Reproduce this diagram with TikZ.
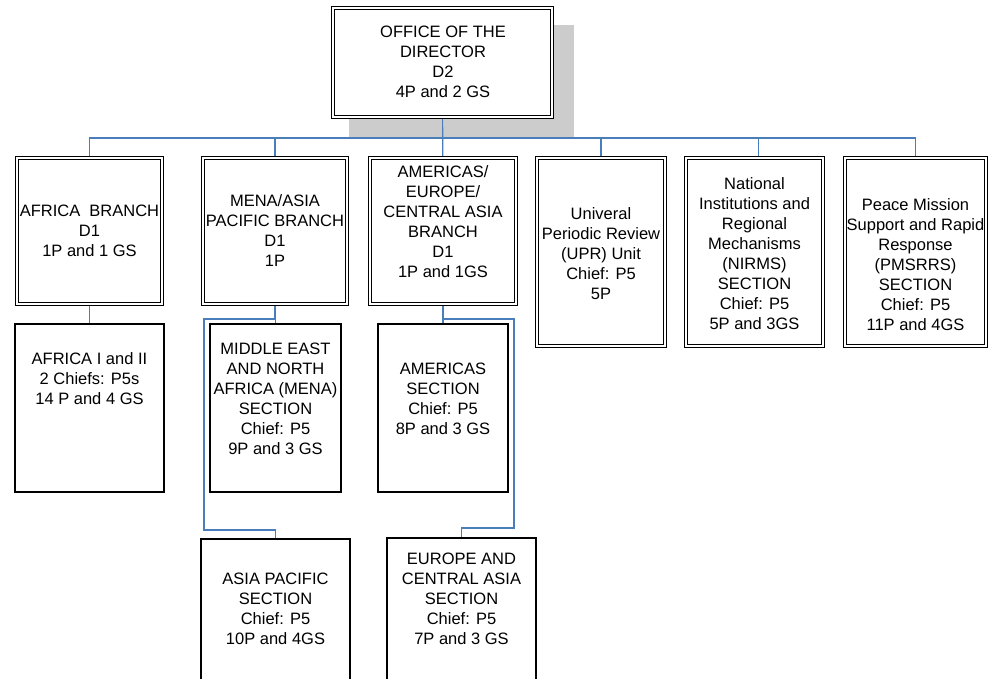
\documentclass[tikz,border=0pt]{standalone}
\usepackage{fontspec}
\setmainfont{Liberation Sans}
\usetikzlibrary{positioning}

\begin{document}
\begin{tikzpicture}[x=1pt, y=-1pt,
	dbox/.style={draw, double, line width=1.2pt, double distance=2pt, fill=white, inner sep=0pt, outer sep=2.2pt},
	sbox/.style={draw, line width=1.2pt, fill=white, inner sep=0pt},
	shadowbox/.style={fill=SHADE, inner sep=0pt},
	txt/.style={align=center, inner sep=0pt, font=\fontsize{16.5}{20}\selectfont},
	link/.style={draw=LINK, line width=1.1pt}]
			\definecolor{LINK}{RGB}{74, 126, 187}
			\definecolor{SHADE}{RGB}{204, 204, 204}
			\useasboundingbox (0, 0) rectangle (992, 679);
			% office of the director
			\node[shadowbox, minimum width=225pt, minimum height=113pt] (dir-shadow) at (461.5, 81.5) {};
			\node[dbox, minimum width=218.6pt, minimum height=108.6pt] (dir) at (442.5, 62.5) {};
			\node[txt] (dir-t) at (443.0, 62.0) {OFFICE OF THE\\DIRECTOR\\D2\\4P and 2 GS};
			% branches
			\node[dbox, minimum width=144.6pt, minimum height=145.6pt] (africa) at ( 89.5, 231.0) {};
			\node[dbox, minimum width=143.6pt, minimum height=145.6pt] (mena)   at (275.0, 231.0) {};
			\node[dbox, minimum width=145.6pt, minimum height=145.6pt] (amer)   at (443.0, 231.0) {};
			\node[dbox, minimum width=127.6pt, minimum height=187.6pt] (upr)    at (601.0, 252.0) {};
			\node[dbox, minimum width=136.6pt, minimum height=187.6pt] (nirms)  at (754.5, 252.0) {};
			\node[dbox, minimum width=140.6pt, minimum height=187.6pt] (pms)    at (915.5, 252.0) {};
			\node[txt] (africa-t) at ( 89.5, 231.0) {AFRICA\ \ BRANCH\\D1\\1P and 1 GS};
			\node[txt] (mena-t)   at (275.0, 231.0) {MENA/ASIA\\PACIFIC BRANCH\\D1\\1P};
			\node[txt] (amer-t)   at (443.0, 222.0) {AMERICAS/\\EUROPE/\\CENTRAL ASIA\\BRANCH\\D1\\1P and 1GS};
			\node[txt] (upr-t)    at (601.0, 254.0) {Univeral\\Periodic Review\\(UPR) Unit\\Chief: P5\\5P};
			\node[txt] (nirms-t)  at (754.5, 254.0) {National\\Institutions and\\Regional\\Mechanisms\\(NIRMS)\\SECTION\\Chief: P5\\5P and 3GS};
			\node[txt] (pms-t)    at (915.5, 265.0) {Peace Mission\\Support and Rapid\\Response\\(PMSRRS)\\SECTION\\Chief: P5\\11P and 4GS};
			% sections
			\node[sbox, minimum width=149pt, minimum height=168pt] (africa-sec) at ( 89.5, 408.0) {};
			\node[sbox, minimum width=131pt, minimum height=168pt] (mena-sec)   at (275.5, 408.0) {};
			\node[sbox, minimum width=130pt, minimum height=168pt] (amer-sec)   at (443.0, 408.0) {};
			\node[sbox, minimum width=149pt, minimum height=161pt] (asia-sec)   at (275.5, 619.5) {};
			\node[sbox, minimum width=149pt, minimum height=162pt] (eur-sec)    at (461.5, 619.0) {};
			\node[txt] (africa-sec-t) at ( 89.5, 379.0) {AFRICA I and II\\2 Chiefs: P5s\\14 P and 4 GS};
			\node[txt] (mena-sec-t)   at (275.5, 399.0) {MIDDLE EAST\\AND NORTH\\AFRICA (MENA)\\SECTION\\Chief: P5\\9P and 3 GS};
			\node[txt] (amer-sec-t)   at (443.0, 399.0) {AMERICAS\\SECTION\\Chief: P5\\8P and 3 GS};
			\node[txt] (asia-sec-t)   at (275.5, 609.0) {ASIA PACIFIC\\SECTION\\Chief: P5\\10P and 4GS};
			\node[txt] (eur-sec-t)    at (461.5, 599.0) {EUROPE AND\\CENTRAL ASIA\\SECTION\\Chief: P5\\7P and 3 GS};
			% connectors
			\coordinate (bus) at (443.0, 138.0);
			\coordinate (mena-l) at (204.0, 319.0);
			\coordinate (asia-j) at (275.5, 530.0);
			\coordinate (amer-r) at (514.0, 319.0);
			\coordinate (eur-j) at (461.5, 528.0);
			\draw[link] (dir) to (amer);
			\draw[link] (africa.north) |- (bus) -| (pms.north);
			\draw[link] (mena.north) |- (bus);
			\draw[link] (upr.north) |- (bus);
			\draw[link] ([xshift=4pt]nirms.north) |- (bus);
			\draw[link] (africa) to (africa-sec);
			\draw[link] ([xshift=0.5pt]mena.south) to ([xshift=0.5pt]mena.south |- mena-sec.north);
			\draw[link] (mena.south) |- (mena-l) |- (asia-j) to (asia-sec.north);
			\draw[link] (amer) to (amer-sec);
			\draw[link] (amer.south) |- (amer-r) |- (eur-j) to (eur-sec.north);
		\end{tikzpicture}
\end{document}
